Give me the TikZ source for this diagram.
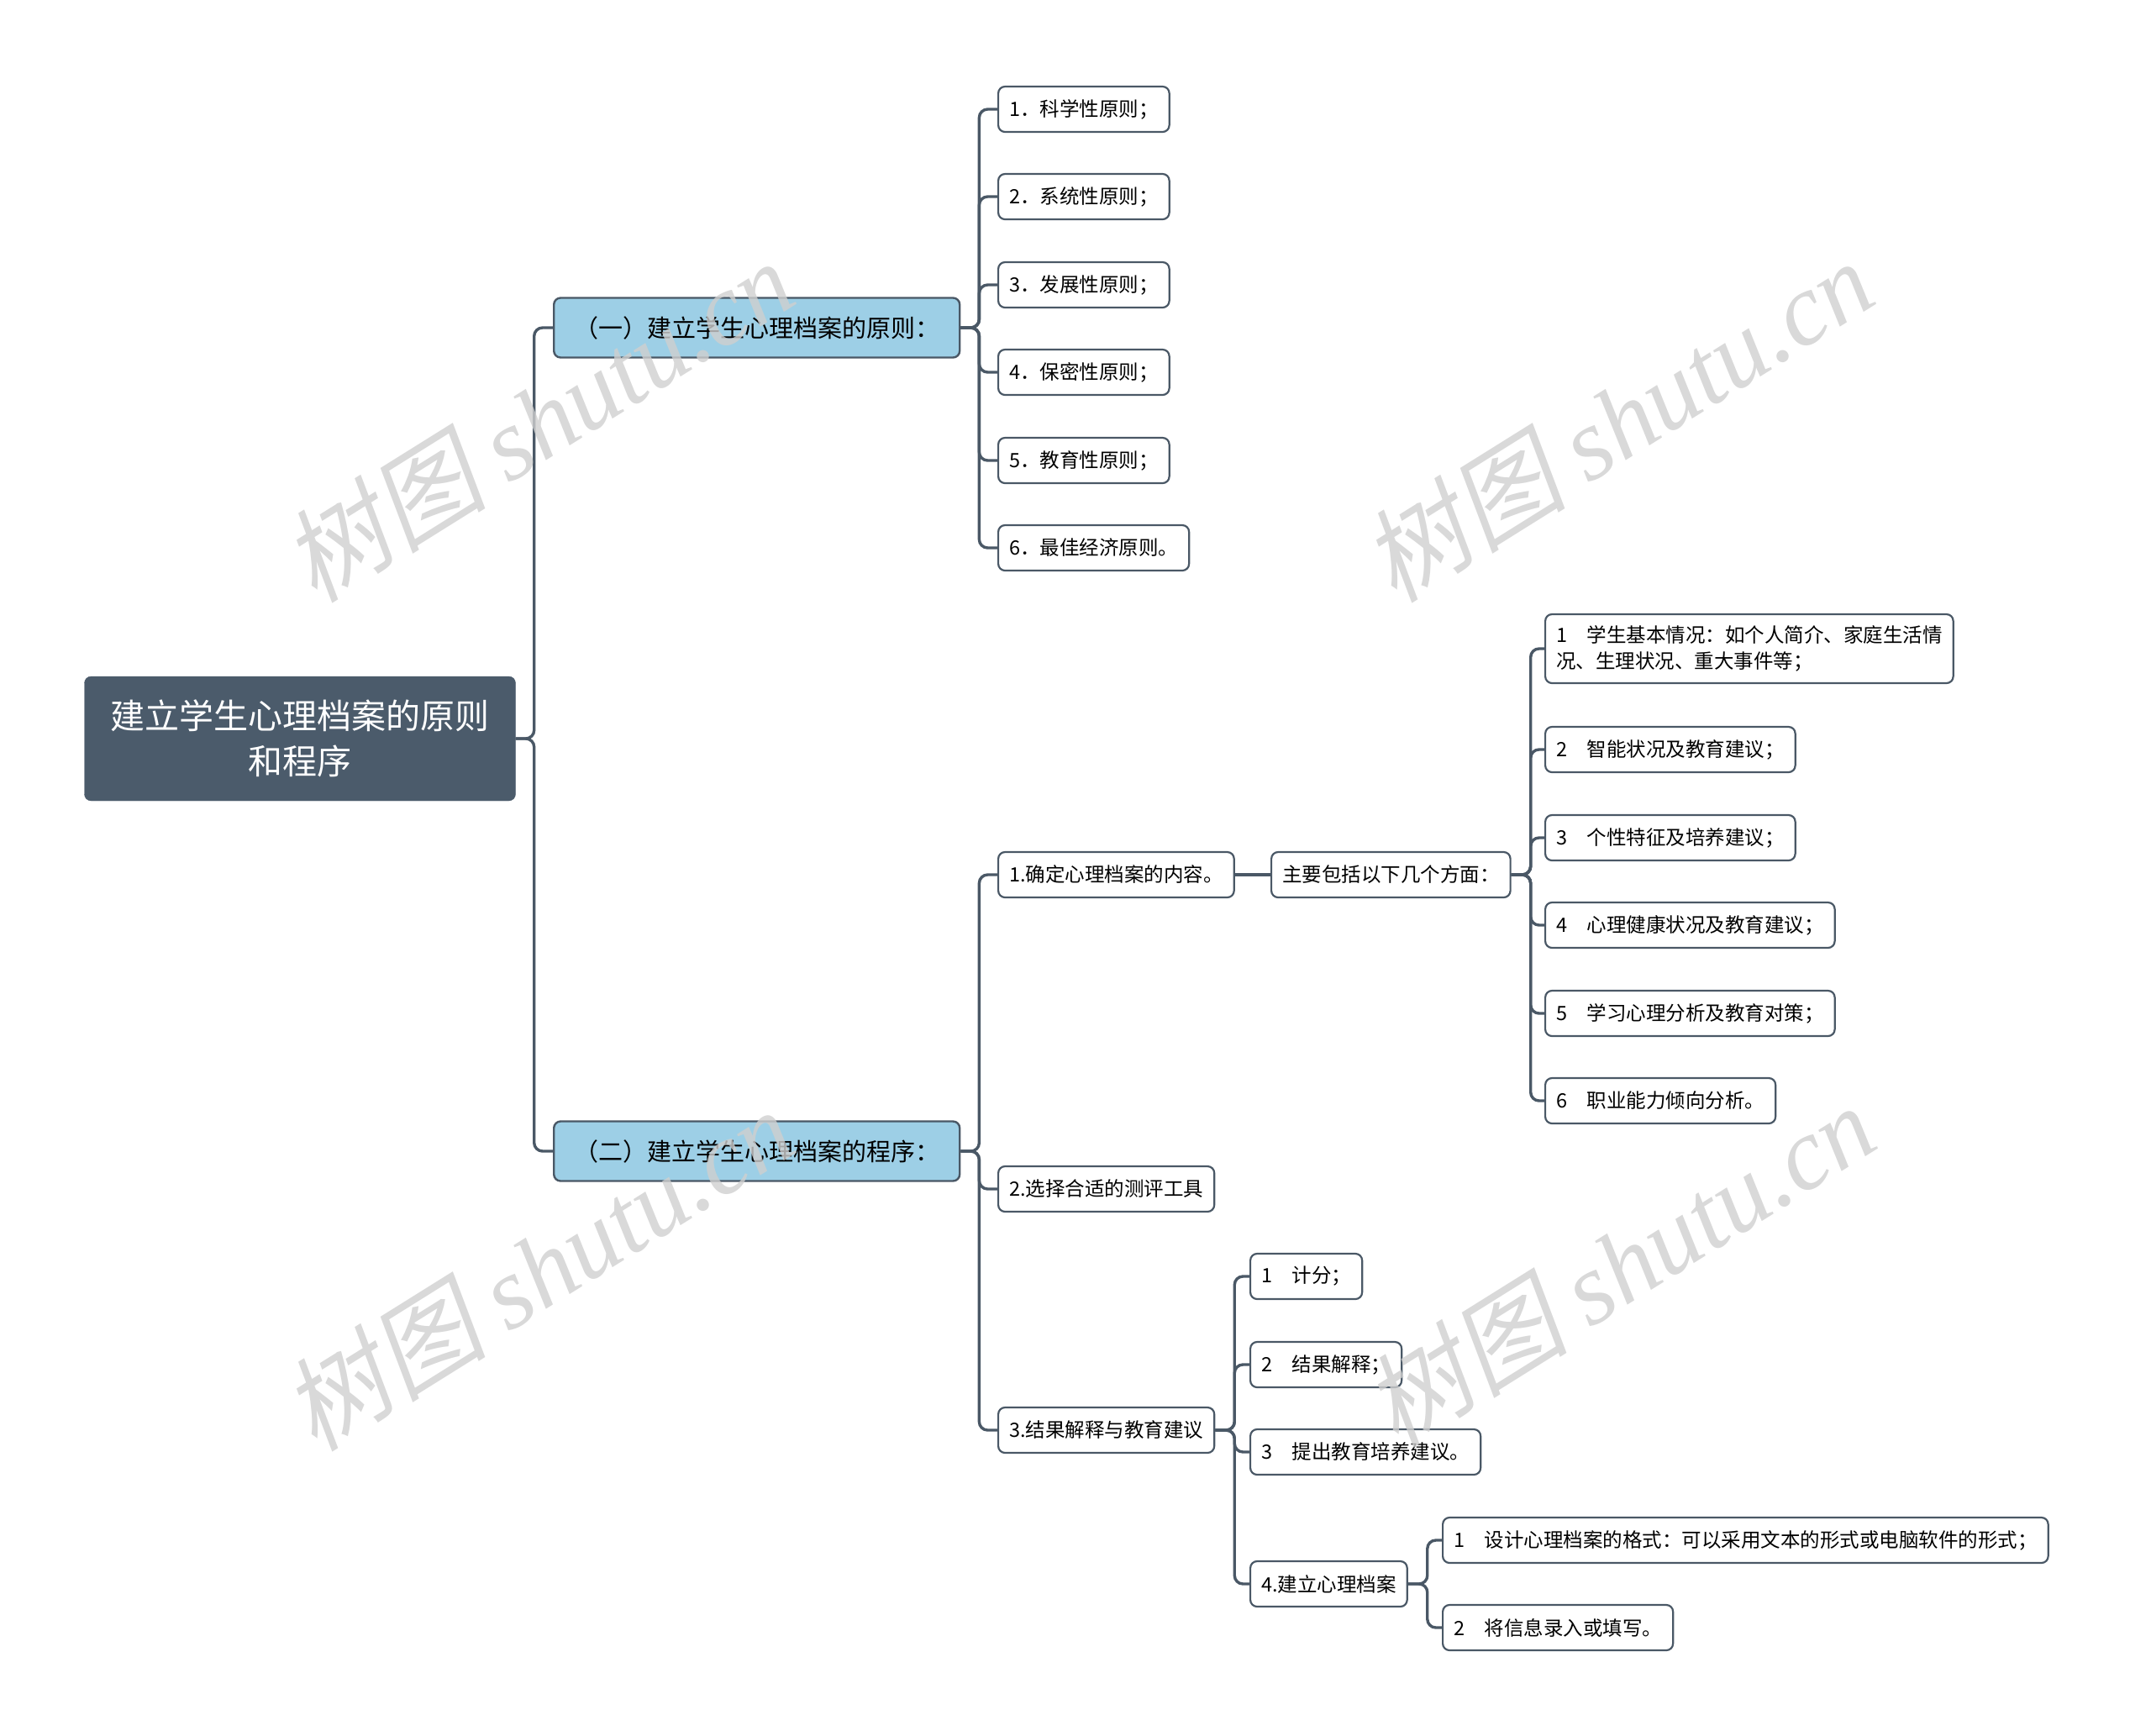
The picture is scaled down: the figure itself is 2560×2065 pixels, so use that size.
\documentclass[tikz,border=0pt]{standalone}
\usepackage{fontspec}
\usepackage{tikz}
\usepackage{xcolor}
\setmainfont{Noto Sans CJK SC}
\newfontfamily\wmcjk{Noto Sans CJK SC}[FakeSlant=0.2]
\newfontfamily\wmlat{Liberation Serif}
\definecolor{linecol}{HTML}{4A5866}
\definecolor{rootcol}{HTML}{4B5B6B}
\definecolor{secblue}{HTML}{9DCFE6}
\definecolor{wmgray}{HTML}{CFCFCF}
\tikzset{
  link/.style={draw=linecol, line width=3.4pt, rounded corners=10pt},
  rootbox/.style={fill=rootcol, draw=rootcol, rounded corners=8pt, text=white, align=center,
    font=\fontsize{41}{54}\selectfont, minimum width=513pt, minimum height=148pt},
  secbox/.style={fill=secblue, draw=linecol, line width=2.4pt, rounded corners=8pt, anchor=west,
    font=\fontsize{29}{35}\selectfont, inner xsep=24pt, minimum height=71pt},
  leafbox/.style={fill=white, draw=linecol, line width=2.2pt, rounded corners=8pt, anchor=west,
    font=\fontsize{23.5}{31}\selectfont, inner xsep=13pt, minimum height=54pt, align=left},
  wmark/.style={text=wmgray, opacity=0.8, rotate=32, font=\fontsize{122}{130}\selectfont}
}

\begin{document}
\begin{tikzpicture}[x=1pt, y=-1pt]
    \useasboundingbox (0,0) rectangle (2560,2065);

    \node[rootbox] (root) at (357,879) {建立学生心理档案的原则\\和程序};
    \node[secbox] (sec1) at (658,390) {（一）建立学生心理档案的原则：};
    \node[secbox] (sec2) at (658,1370) {（二）建立学生心理档案的程序：};

    \node[leafbox] (p1) at (1187,130) {1．科学性原则；};
    \node[leafbox] (p2) at (1187,234) {2．系统性原则；};
    \node[leafbox] (p3) at (1187,339) {3．发展性原则；};
    \node[leafbox] (p4) at (1187,443) {4．保密性原则；};
    \node[leafbox] (p5) at (1187,548) {5．教育性原则；};
    \node[leafbox] (p6) at (1187,652) {6．最佳经济原则。};

    \node[leafbox] (s1) at (1187,1041) {1.确定心理档案的内容。};
    \node[leafbox] (s2) at (1187,1415) {2.选择合适的测评工具};
    \node[leafbox] (s3) at (1187,1702) {3.结果解释与教育建议};
    \node[leafbox] (sum) at (1512,1041) {主要包括以下几个方面：};

    \node[leafbox, minimum height=82pt] (c1) at (1838,772) {1\quad 学生基本情况：如个人简介、家庭生活情\\况、生理状况、重大事件等；};
    \node[leafbox] (c2) at (1838,892) {2\quad 智能状况及教育建议；};
    \node[leafbox] (c3) at (1838,997) {3\quad 个性特征及培养建议；};
    \node[leafbox] (c4) at (1838,1101) {4\quad 心理健康状况及教育建议；};
    \node[leafbox] (c5) at (1838,1206) {5\quad 学习心理分析及教育对策；};
    \node[leafbox] (c6) at (1838,1310) {6\quad 职业能力倾向分析。};

    \node[leafbox] (r1) at (1487,1519) {1\quad 计分；};
    \node[leafbox] (r2) at (1487,1624) {2\quad 结果解释；};
    \node[leafbox] (r3) at (1487,1728) {3\quad 提出教育培养建议。};
    \node[leafbox] (r4) at (1487,1885) {4.建立心理档案};

    \node[leafbox] (f1) at (1716,1833) {1\quad 设计心理档案的格式：可以采用文本的形式或电脑软件的形式；};
    \node[leafbox] (f2) at (1716,1937) {2\quad 将信息录入或填写。};

    \foreach \c in {sec1,sec2}
      \draw[link] (root.east) -- ++(22,0) |- (\c.west);
    \foreach \c in {p1,p2,p3,p4,p5,p6}
      \draw[link] (sec1.east) -- ++(22,0) |- (\c.west);
    \foreach \c in {s1,s2,s3}
      \draw[link] (sec2.east) -- ++(22,0) |- (\c.west);
    \draw[link] (s1.east) -- (sum.west);
    \foreach \c in {c1,c2,c3,c4,c5,c6}
      \draw[link] (sum.east) -- ++(23,0) |- (\c.west);
    \foreach \c in {r1,r2,r3,r4}
      \draw[link] (s3.east) -- ++(23,0) |- (\c.west);
    \foreach \c in {f1,f2}
      \draw[link] (r4.east) -- ++(23,0) |- (\c.west);

    \node[wmark] (wm1) at (640,500) {{\wmcjk 树图} {\wmlat\itshape shutu.cn}};
    \node[wmark] (wm2) at (1925,500) {{\wmcjk 树图} {\wmlat\itshape shutu.cn}};
    \node[wmark] (wm3) at (640,1510) {{\wmcjk 树图} {\wmlat\itshape shutu.cn}};
    \node[wmark] (wm4) at (1927,1505) {{\wmcjk 树图} {\wmlat\itshape shutu.cn}};
\end{tikzpicture}
\end{document}
